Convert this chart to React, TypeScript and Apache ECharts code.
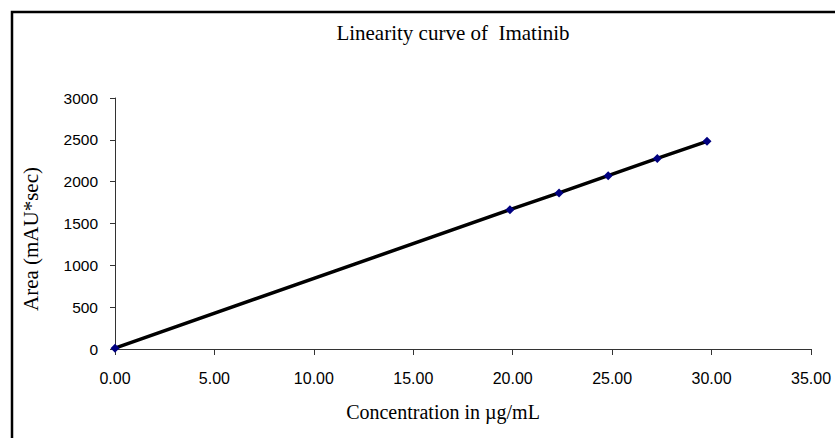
import React, { useEffect, useRef } from "react";
import * as echarts from "echarts";

const concentrations = [0, 19.86, 22.33, 24.8, 27.27, 29.77];
const areas = [10, 1665, 1865, 2072, 2278, 2482];
const xTicks = { min: 0, max: 35, interval: 5 };
const yTicks = { min: 0, max: 3000, interval: 500 };
const titleText = "Linearity curve of  Imatinib";
const xName = "Concentration in µg/mL";
const yName = "Area (mAU*sec)";

export default function App() {
  const ref = useRef<HTMLDivElement>(null);
  useEffect(() => {
    if (!ref.current) return;
    const chart = echarts.init(ref.current, null, { renderer: "svg" });
    const serif = "Liberation Serif";
    const sans = "Liberation Sans";
    chart.setOption({
      animation: false,
      backgroundColor: "#ffffff",
      title: {
        text: titleText,
        left: 448,
        top: 17,
        textAlign: "center",
        textStyle: { fontFamily: serif, fontSize: 21, fontWeight: "normal", color: "#000" },
      },
      graphic: [
        {
          type: "rect",
          shape: { x: 12, y: 12, width: 840, height: 450 },
          style: { fill: "none", stroke: "#000", lineWidth: 2.5 },
          silent: true,
        },
        {
          type: "text",
          x: 31,
          y: 239,
          rotation: Math.PI / 2,
          style: {
            text: yName,
            fontFamily: serif,
            fontSize: 21,
            fill: "#000",
            align: "center",
            verticalAlign: "middle",
          },
        },
        {
          type: "text",
          x: 443,
          y: 412,
          style: {
            text: xName,
            fontFamily: serif,
            fontSize: 20,
            fill: "#000",
            align: "center",
            verticalAlign: "middle",
          },
        },
      ],
      grid: { left: 115, right: 24, top: 98, bottom: 89, containLabel: false },
      xAxis: {
        type: "value",
        min: xTicks.min,
        max: xTicks.max,
        interval: xTicks.interval,
        axisLine: { show: true, lineStyle: { color: "#333", width: 1 } },
        axisTick: { show: true, inside: false, length: 6, lineStyle: { color: "#333" } },
        axisLabel: {
          formatter: (v: number) => v.toFixed(2),
          fontFamily: sans,
          fontSize: 16,
          color: "#000",
          margin: 21,
        },
        splitLine: { show: false },
      },
      yAxis: {
        type: "value",
        min: yTicks.min,
        max: yTicks.max,
        interval: yTicks.interval,
        axisLine: { show: true, lineStyle: { color: "#333", width: 1 } },
        axisTick: { show: true, inside: false, length: 5, lineStyle: { color: "#333" } },
        axisLabel: {
          formatter: (v: number) => String(v),
          fontFamily: sans,
          fontSize: 15.5,
          color: "#000",
          margin: 17,
        },
        splitLine: { show: false },
      },
      series: [
        {
          type: "line",
          data: concentrations.map((c, i) => [c, areas[i]]),
          symbol: "diamond",
          symbolSize: 9,
          showSymbol: true,
          itemStyle: { color: "#000080" },
          lineStyle: { color: "#000", width: 3.5 },
          z: 3,
        },
      ],
    });
    return () => chart.dispose();
  }, []);
  return (
    <div
      ref={ref}
      style={{ position: "fixed", left: 0, top: 0, width: 835, height: 438, background: "#fff" }}
    />
  );
}
